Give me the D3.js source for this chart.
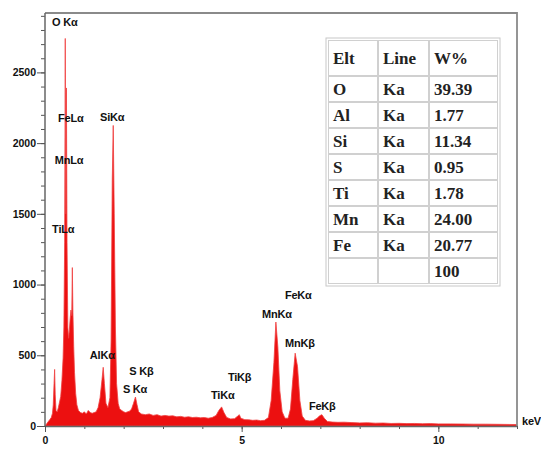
<!DOCTYPE html>
<html>
<head>
<meta charset="utf-8">
<script src="https://cdn.jsdelivr.net/npm/d3@7"></script>
<style>
	html, body { margin: 0; padding: 0; background: #fff; }
	svg { display: block; }
	.tick text { font-family: "Liberation Sans", Arial, sans-serif; font-weight: bold; font-size: 10.5px; fill: #111; }
	.tick line { stroke: #555; }
	.domain { stroke: #666; stroke-width: 1.5px; }
	.peak-label { font-family: "Liberation Sans", Arial, sans-serif; font-weight: bold; font-size: 11px; fill: #111; letter-spacing: -0.2px; }
	.tbl-text { font-family: "Liberation Serif", "Times New Roman", serif; font-weight: bold; font-size: 17px; fill: #222; }
</style>
</head>
<body>
<div id="eds"></div>
<script>
//Espectro EDS (energia em keV, contagens)
var energy = [
	0.00, 0.04, 0.08, 0.12, 0.16, 0.19, 0.21, 0.23, 0.245, 0.26, 0.28, 0.31, 0.34, 0.37, 0.40, 0.43, 0.46, 0.48,
	0.50, 0.515, 0.53, 0.545, 0.56, 0.58, 0.60, 0.62, 0.64, 0.66, 0.68, 0.695, 0.71, 0.73, 0.75, 0.78, 0.81, 0.85,
	0.90, 0.95, 1.00, 1.05, 1.10, 1.15, 1.20, 1.25, 1.30, 1.35, 1.40, 1.45, 1.48, 1.51, 1.55, 1.60, 1.65, 1.68,
	1.71, 1.735, 1.76, 1.79, 1.82, 1.86, 1.90, 1.95, 2.00, 2.05, 2.10, 2.15, 2.20, 2.25, 2.30, 2.34, 2.38, 2.45,
	2.55, 2.65, 2.75, 2.85, 2.95, 3.05, 3.15, 3.25, 3.35, 3.45, 3.55, 3.65, 3.75, 3.85, 3.95, 4.05, 4.15, 4.25,
	4.35, 4.42, 4.49, 4.55, 4.62, 4.72, 4.82, 4.90, 4.94, 4.98, 5.08, 5.18, 5.28, 5.38, 5.48, 5.58, 5.68, 5.75,
	5.82, 5.87, 5.92, 5.97, 6.03, 6.10, 6.18, 6.24, 6.30, 6.36, 6.42, 6.48, 6.54, 6.62, 6.72, 6.82, 6.92, 6.98,
	7.04, 7.10, 7.18, 7.30, 7.45, 7.60, 7.80, 8.00, 8.20, 8.40, 8.60, 8.80, 9.00, 9.20, 9.40, 9.60, 9.80, 10.00,
	10.30, 10.60, 10.90, 11.20, 11.50, 11.80, 12.00
];
var counts = [
	0, 15, 30, 45, 60, 90, 150, 300, 400, 220, 110, 100, 130, 170, 210, 320, 480, 700,
	1300, 2740, 1500, 2390, 1300, 700, 620, 680, 760, 820, 780, 1120, 800, 560, 380, 230, 150, 110,
	95, 90, 100, 85, 110, 95, 90, 95, 100, 130, 200, 330, 415, 300, 160, 130, 200, 600,
	1740, 2125, 1500, 700, 300, 160, 120, 110, 100, 95, 100, 105, 120, 160, 205, 150, 100, 85,
	80, 85, 75, 80, 70, 75, 70, 72, 65, 68, 62, 65, 60, 62, 58, 60, 55, 60,
	75, 110, 135, 95, 60, 50, 52, 70, 80, 55, 45, 44, 40, 42, 38, 40, 60, 180,
	450, 735, 560, 250, 100, 55, 55, 120, 330, 515, 420, 180, 70, 40, 36, 38, 55, 72,
	80, 55, 32, 28, 26, 27, 24, 22, 23, 20, 21, 18, 19, 17, 18, 16, 17, 15,
	15, 14, 13, 13, 12, 11, 10
];

//Eixos
var yMajor = [0, 500, 1000, 1500, 2000, 2500];
var xMajor = [0, 5, 10];

//Rótulos dos picos (posição em keV / contagens)
var labelText = ["O K\u03b1", "FeL\u03b1", "SiK\u03b1", "MnL\u03b1", "TiL\u03b1", "AlK\u03b1", "S K\u03b2", "S K\u03b1",
	"TiK\u03b2", "TiK\u03b1", "MnK\u03b1", "FeK\u03b1", "MnK\u03b2", "FeK\u03b2"];
var labelE = [0.18, 0.33, 1.40, 0.25, 0.18, 1.14, 2.14, 1.98, 4.65, 4.22, 5.52, 6.10, 6.10, 6.71];
var labelC = [2856, 2178, 2185, 1881, 1393, 502, 389, 262, 346, 219, 792, 926, 587, 141];

//Tabela de composição
var tblHeader = ["Elt", "Line", "W%"];
var tblElt = ["O", "Al", "Si", "S", "Ti", "Mn", "Fe", ""];
var tblLine = ["Ka", "Ka", "Ka", "Ka", "Ka", "Ka", "Ka", ""];
var tblWeight = ["39.39", "1.77", "11.34", "0.95", "1.78", "24.00", "20.77", "100"];

(function () {
	'use strict';
	var width = 541, height = 451;
	var margin = {top: 13, right: 24, bottom: 25, left: 45};

	var svg = d3.select("#eds").append("svg")
		.attr("width", width)
		.attr("height", height);

	//Escalas
	var x = d3.scaleLinear().domain([0, 12]).range([margin.left, width - margin.right]);
	var y = d3.scaleLinear().domain([0, 2920]).range([height - margin.bottom, margin.top]);

	var pts = energy.map(function(e, i) { return [e, counts[i]]; });

	//Espectro preenchido
	var area = d3.area()
		.x(function(d) { return x(d[0]); })
		.y0(y(0))
		.y1(function(d) { return y(d[1]); });
	svg.append("path")
		.datum(pts)
		.attr("d", area)
		.attr("fill", "#ec1010")
		.attr("stroke", "#f04040")
		.attr("stroke-width", 0.8);

	//Moldura (topo e direita)
	svg.append("path")
		.attr("d", "M" + x(0) + "," + y.range()[1] + "H" + x(12) + "V" + y(0))
		.attr("fill", "none")
		.attr("stroke", "#8a8a8a")
		.attr("stroke-width", 1.8);

	//Eixo y: ticks menores e maiores
	svg.append("g")
		.attr("transform", "translate(" + x(0) + ",0)")
		.call(d3.axisLeft(y).tickValues(d3.range(0, 2901, 100)).tickSize(4).tickFormat(""))
		.call(function(g) { g.select(".domain").remove(); });
	svg.append("g")
		.attr("transform", "translate(" + x(0) + ",0)")
		.call(d3.axisLeft(y).tickValues(yMajor).tickSize(8).tickSizeOuter(0).tickPadding(1)
			.tickFormat(function(d) { return d; }))
		.call(function(g) { g.select(".domain").attr("d", "M0," + y(0) + "V" + y.range()[1]); });

	//Eixo x
	svg.append("g")
		.attr("transform", "translate(0," + y(0) + ")")
		.call(d3.axisBottom(x).tickValues(d3.range(0, 13, 1)).tickSize(3).tickFormat(""))
		.call(function(g) { g.select(".domain").remove(); });
	svg.append("g")
		.attr("transform", "translate(0," + y(0) + ")")
		.call(d3.axisBottom(x).tickValues(xMajor).tickSize(6).tickSizeOuter(0).tickPadding(5))
		.call(function(g) { g.select(".domain").attr("stroke", "#8a5050"); });

	svg.append("text")
		.attr("class", "peak-label")
		.attr("x", x(12) + 5)
		.attr("y", y(0) - 1)
		.text("keV");

	//Rótulos dos picos
	svg.selectAll(".peak-label-item")
		.data(labelText)
		.enter()
		.append("text")
		.attr("class", "peak-label")
		.attr("x", function(d, i) { return x(labelE[i]); })
		.attr("y", function(d, i) { return y(labelC[i]) + 4; })
		.text(function(d) { return d; });

	//Tabela
	var cols = [328, 378, 429, 498];
	var rowTop = 40, headH = 36, rowH = 26;
	var rows = [rowTop, rowTop + headH];
	for (var r = 1; r <= tblElt.length; r++) { rows.push(rowTop + headH + r * rowH); }
	var tbl = svg.append("g").attr("class", "tbl");
	tbl.append("rect")
		.attr("x", cols[0] - 2).attr("y", rows[0] - 2)
		.attr("width", cols[3] - cols[0] + 4).attr("height", rows[rows.length - 1] - rows[0] + 4)
		.attr("fill", "#fff").attr("stroke", "#c8c8c8");
	for (var ri = 0; ri < rows.length - 1; ri++) {
		for (var ci = 0; ci < 3; ci++) {
			tbl.append("rect")
				.attr("x", cols[ci] + 0.5).attr("y", rows[ri] + 0.5)
				.attr("width", cols[ci + 1] - cols[ci] - 1).attr("height", rows[ri + 1] - rows[ri] - 1)
				.attr("fill", "none").attr("stroke", "#d0d0d0");
		}
	}
	var tblRows = [tblHeader].concat(tblElt.map(function(e, i) { return [e, tblLine[i], tblWeight[i]]; }));
	tblRows.forEach(function(row, i) {
		var cy = (rows[i] + rows[i + 1]) / 2;
		row.forEach(function(t, j) {
			tbl.append("text")
				.attr("class", "tbl-text")
				.attr("x", cols[j] + 5)
				.attr("y", cy + 6)
				.text(t);
		});
	});
}());
</script>
</body>
</html>
